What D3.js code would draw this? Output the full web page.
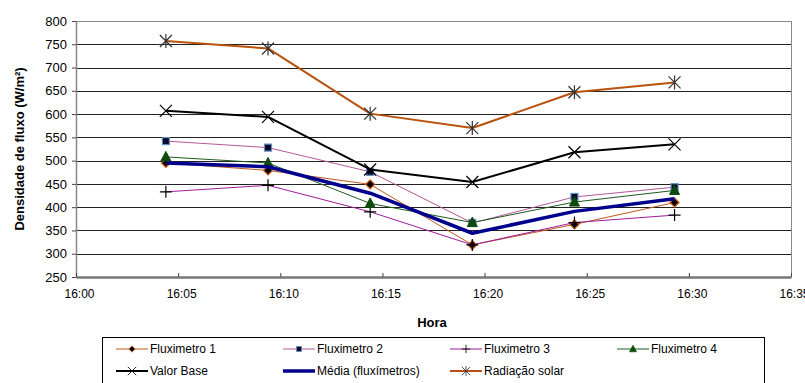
<!DOCTYPE html>
<html>
<head>
<meta charset="utf-8">
<script src="https://cdn.jsdelivr.net/npm/d3@7"></script>
<style>
  body { margin: 0; background: #fff; }
  svg { display: block; font-family: "Liberation Sans", Arial, sans-serif; }
</style>
</head>
<body>
<svg id="chart" width="805" height="383"></svg>
<script>
// Dados (minutos após 16:00)
const horas = [4.4, 9.4, 14.4, 19.4, 24.4, 29.3];
const fluximetro1 = [495, 479, 449, 319, 363, 410];
const fluximetro2 = [542, 528, 476, 366, 422, 443];
const fluximetro3 = [433, 447, 390, 319, 367, 383];
const fluximetro4 = [508, 495, 408, 367, 411, 436];
const valorBase = [607, 594, 481, 454, 518, 535];
const media = [495, 487, 430, 344, 391, 418];
const radiacao = [757, 741, 601, 570, 647, 668];
const yTicks = [250, 300, 350, 400, 450, 500, 550, 600, 650, 700, 750, 800];
const xTicks = [0, 5, 10, 15, 20, 25, 30, 35];

const series = [
  { name: "Fluximetro 1", values: fluximetro1, color: "#c0581c", width: 1, marker: "diamond" },
  { name: "Fluximetro 2", values: fluximetro2, color: "#b45a96", width: 1, marker: "square" },
  { name: "Fluximetro 3", values: fluximetro3, color: "#9c1c9c", width: 1, marker: "plus" },
  { name: "Fluximetro 4", values: fluximetro4, color: "#1e5a1e", width: 1, marker: "triangle" },
  { name: "Valor Base", values: valorBase, color: "#000000", width: 2, marker: "x" },
  { name: "Média (fluxímetros)", values: media, color: "#00008c", width: 3.5, marker: null },
  { name: "Radiação solar", values: radiacao, color: "#b8520e", width: 2, marker: "star" }
];

const margin = { top: 21, left: 76, right: 14, bottom: 106 };
const width = 805 - margin.left - margin.right,
      height = 383 - margin.top - margin.bottom;

const svg = d3.select("#chart");
const chart = svg.append("g")
    .attr("transform", `translate(${margin.left},${margin.top})`);

const x = d3.scaleLinear().domain([0, 35]).range([0, width]);
const y = d3.scaleLinear().domain([250, 800]).range([height, 0]);

// Linhas de grade
chart.append("g")
  .selectAll("line")
  .data(yTicks.filter(d => d > 250))
  .enter()
  .append("line")
    .attr("x1", 0)
    .attr("x2", width)
    .attr("y1", d => Math.round(y(d)) + 0.5)
    .attr("y2", d => Math.round(y(d)) + 0.5)
    .attr("stroke", d => d === 800 ? "#888" : "#222")
    .attr("stroke-width", 1);

// Borda direita
chart.append("line")
    .attr("x1", width + 0.5).attr("x2", width + 0.5)
    .attr("y1", y(800)).attr("y2", height)
    .attr("stroke", "#888");

// Eixo Y
const yAxis = chart.append("g")
    .call(d3.axisLeft(y).tickValues(yTicks).tickSize(4).tickSizeOuter(0));
yAxis.select(".domain").attr("stroke", "#888").attr("stroke-width", 1.5);
yAxis.selectAll(".tick line").attr("stroke", "#444");
yAxis.selectAll("text")
    .attr("x", -9)
    .style("font-size", "13px")
    .style("font-family", "Liberation Sans, Arial, sans-serif")
    .attr("fill", "#000");

// Eixo X
const xAxis = chart.append("g")
    .attr("transform", `translate(0,${height})`)
    .call(d3.axisBottom(x).tickValues(xTicks).tickSize(-4).tickSizeOuter(0)
      .tickFormat(d => "16:" + String(d).padStart(2, "0")));
xAxis.select(".domain").attr("stroke", "#777").attr("stroke-width", 2.5);
xAxis.selectAll(".tick line").attr("stroke", "#444");
xAxis.selectAll("text")
    .attr("y", 12)
    .attr("dx", 3)
    .style("font-size", "12px")
    .style("font-family", "Liberation Sans, Arial Narrow, sans-serif")
    .attr("fill", "#000");

// Símbolos
function drawMarker(g, type, cx, cy) {
  if (type === "diamond") {
    g.append("path").attr("d", `M${cx},${cy - 4.5}L${cx + 4.5},${cy}L${cx},${cy + 4.5}L${cx - 4.5},${cy}Z`)
      .attr("fill", "#000").attr("stroke", "#d0601c").attr("stroke-width", 1.2);
  } else if (type === "square") {
    g.append("rect").attr("x", cx - 3.5).attr("y", cy - 3.5).attr("width", 7).attr("height", 7)
      .attr("fill", "#0a0a28").attr("stroke", "#5f8fbf").attr("stroke-width", 1.2);
  } else if (type === "plus") {
    g.append("path").attr("d", `M${cx - 6},${cy}H${cx + 6}M${cx},${cy - 6}V${cx === cx ? cy + 6 : 0}`)
      .attr("stroke", "#000").attr("stroke-width", 1.2).attr("fill", "none");
  } else if (type === "triangle") {
    g.append("path").attr("d", `M${cx},${cy - 5.5}L${cx + 5},${cy + 4}L${cx - 5},${cy + 4}Z`)
      .attr("fill", "#0d4a0d").attr("stroke", "#0d4a0d").attr("stroke-width", 1);
  } else if (type === "x") {
    g.append("path").attr("d", `M${cx - 6},${cy - 6}L${cx + 6},${cy + 6}M${cx + 6},${cy - 6}L${cx - 6},${cy + 6}`)
      .attr("stroke", "#000").attr("stroke-width", 1.2).attr("fill", "none");
  } else if (type === "star") {
    g.append("path").attr("d", `M${cx - 6},${cy - 6}L${cx + 6},${cy + 6}M${cx + 6},${cy - 6}L${cx - 6},${cy + 6}M${cx},${cy - 7}V${cy + 7}`)
      .attr("stroke", "#333").attr("stroke-width", 1.2).attr("fill", "none");
  }
}

const line = d3.line()
    .x((d, i) => x(horas[i]))
    .y(d => y(d));

series.forEach(s => {
  const g = chart.append("g");
  g.append("path")
      .datum(s.values)
      .attr("d", line)
      .attr("fill", "none")
      .attr("stroke", s.color)
      .attr("stroke-width", s.width)
      .attr("stroke-linejoin", "round");
  if (s.marker) {
    s.values.forEach((v, i) => drawMarker(g, s.marker, x(horas[i]), y(v)));
  }
});

// Títulos dos eixos
chart.append("text")
    .attr("transform", "rotate(-90)")
    .attr("x", -height / 2)
    .attr("y", -52)
    .style("text-anchor", "middle")
    .style("font-size", "13px")
    .style("font-weight", "bold")
    .text("Densidade de fluxo (W/m²)");

chart.append("text")
    .attr("x", 432 - margin.left)
    .attr("y", height + 50)
    .style("text-anchor", "middle")
    .style("font-size", "13px")
    .style("font-weight", "bold")
    .text("Hora");

// Legenda
const legend = svg.append("g");
legend.append("rect")
    .attr("x", 102.5).attr("y", 337.5)
    .attr("width", 662).attr("height", 60)
    .attr("fill", "#fff").attr("stroke", "#000");

const colX = [116, 283, 450, 617];
const rowY = [349, 371];
series.forEach((s, i) => {
  const cx = colX[i % 4], cy = rowY[Math.floor(i / 4)];
  const g = legend.append("g");
  g.append("line")
      .attr("x1", cx).attr("x2", cx + 32)
      .attr("y1", cy).attr("y2", cy)
      .attr("stroke", s.color)
      .attr("stroke-width", s.width);
  if (s.marker) {
    const sg = g.append("g").attr("transform", `translate(${cx + 16},${cy}) scale(0.7) translate(${-(cx + 16)},${-cy})`);
    drawMarker(sg, s.marker, cx + 16, cy);
  }
  g.append("text")
      .attr("x", cx + 34)
      .attr("y", cy + 4)
      .style("font-size", "12px")
      .text(s.name);
});
</script>
</body>
</html>
